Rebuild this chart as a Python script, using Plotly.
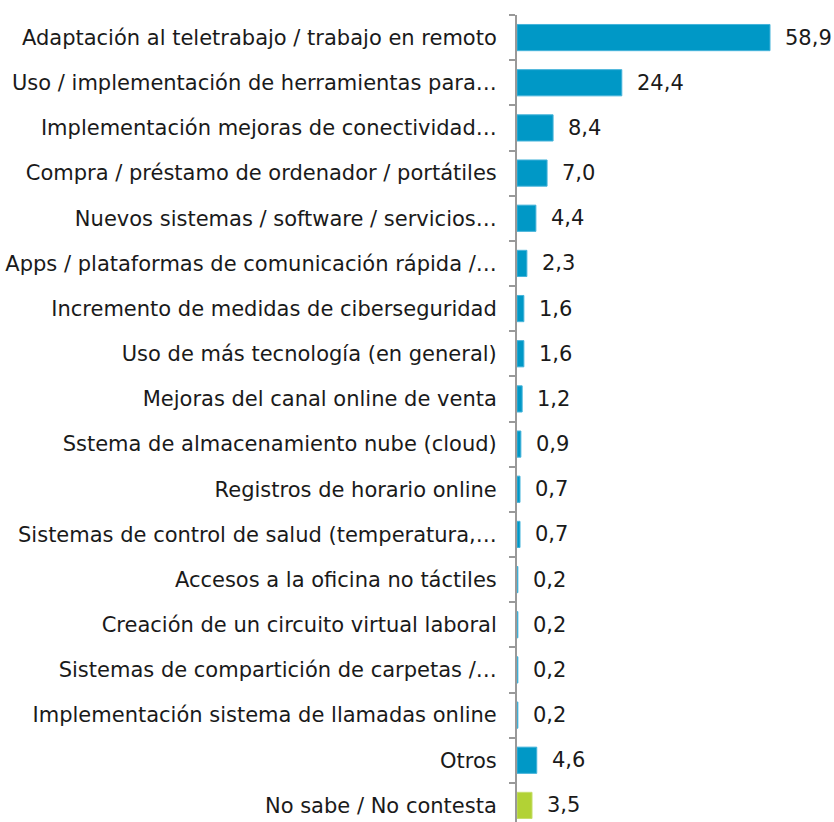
import plotly.graph_objects as go

categories = [
    "Adaptación al teletrabajo / trabajo en remoto",
    "Uso / implementación de herramientas para…",
    "Implementación mejoras de conectividad…",
    "Compra / préstamo de ordenador / portátiles",
    "Nuevos sistemas / software / servicios…",
    "Apps / plataformas de comunicación rápida /…",
    "Incremento de medidas de ciberseguridad",
    "Uso de más tecnología (en general)",
    "Mejoras del canal online de venta",
    "Sstema de almacenamiento nube (cloud)",
    "Registros de horario online",
    "Sistemas de control de salud (temperatura,…",
    "Accesos a la oficina no táctiles",
    "Creación de un circuito virtual laboral",
    "Sistemas de compartición de carpetas /…",
    "Implementación sistema de llamadas online",
    "Otros",
    "No sabe / No contesta",
]
values = [58.9, 24.4, 8.4, 7.0, 4.4, 2.3, 1.6, 1.6, 1.2, 0.9, 0.7, 0.7,
          0.2, 0.2, 0.2, 0.2, 4.6, 3.5]

BLUE = "#0098C6"
BLUE_EDGE = "#45B3DA"
GREEN = "#B2D235"
GREEN_EDGE = "#C6DE6A"

fill = [GREEN if c.startswith("No sabe") else BLUE for c in categories]
edge = [GREEN_EDGE if c.startswith("No sabe") else BLUE_EDGE for c in categories]

FONT = "DejaVu Sans, Verdana, sans-serif"
FSIZE = 21

fig = go.Figure(
    go.Bar(
        x=values,
        y=categories,
        orientation="h",
        marker=dict(color=fill, line=dict(color=edge, width=1)),
        hoverinfo="skip",
    )
)

for c, v in zip(categories, values):
    fig.add_annotation(
        x=v, y=c, xref="x", yref="y",
        text=f"{v:.1f}".replace(".", ","),
        showarrow=False, xanchor="left", xshift=13,
        font=dict(family=FONT, size=FSIZE, color="#1a1a1a"),
    )

fig.update_layout(
    width=834,
    height=828,
    margin=dict(l=517, r=0, t=15, b=0),
    plot_bgcolor="white",
    paper_bgcolor="white",
    bargap=0.42,
    showlegend=False,
    font=dict(family=FONT, size=FSIZE, color="#1a1a1a"),
)
fig.update_xaxes(
    range=[0, 73.8], visible=False, showgrid=False, zeroline=False,
)
fig.update_yaxes(
    autorange="reversed",
    showline=True, linecolor="#999999", linewidth=2,
    ticks="outside", tickson="boundaries", ticklen=6, tickcolor="#999999",
    tickwidth=2, showgrid=False, ticklabelstandoff=14,
    tickfont=dict(family=FONT, size=FSIZE, color="#1a1a1a"),
)

fig.write_html("out.html")
